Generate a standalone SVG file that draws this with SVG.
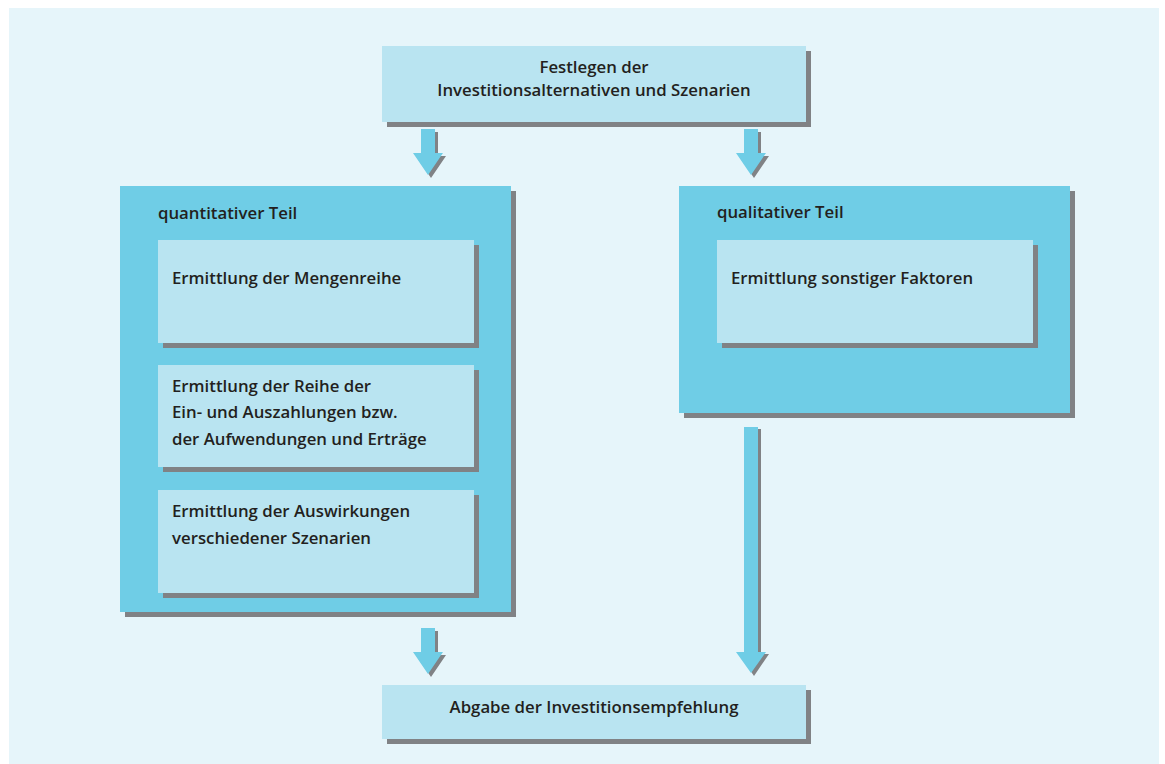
<svg xmlns="http://www.w3.org/2000/svg" width="1165" height="764" viewBox="0 0 1165 764">
  <defs>
    <style>
      .bg { fill: #e6f5fa; }
      .shadow { fill: #808285; }
      .light { fill: #b9e4f1; }
      .mid { fill: #6fcde6; }
      .arrow { fill: #6fcde6; }
      .ashadow { fill: #808285; }
      text { font-family: "Open Sans", "Liberation Sans", sans-serif; font-weight: 600; font-size: 16.8px; fill: #231f20; }
      .c { text-anchor: middle; }
    </style>
    <!-- downward block arrow, origin at the shaft's top centre -->
    <g id="arrowShort">
      <path class="ashadow" d="M-4 3 H10 V27 H18 L3 49 L-12 27 H-4 Z"/>
      <path class="arrow" d="M-7 0 H7 V24 H15 L0 46 L-15 24 H-7 Z"/>
    </g>
    <g id="arrowLong">
      <path class="ashadow" d="M-4 2 H10 V227 H18 L3 249 L-12 227 H-4 Z"/>
      <path class="arrow" d="M-7 0 H7 V225 H15 L0 246 L-15 225 H-7 Z"/>
    </g>
  </defs>

  <rect class="bg" x="9" y="8" width="1150" height="756"/>

  <!-- connectors -->
  <g id="connectors">
    <use href="#arrowShort" x="428" y="129"/>
    <use href="#arrowShort" x="751" y="129"/>
    <use href="#arrowShort" x="428" y="628"/>
    <use href="#arrowLong" x="751" y="427"/>
  </g>

  <!-- start node -->
  <g id="festlegen">
    <rect class="shadow" x="387" y="51" width="424" height="76"/>
    <rect class="light" x="382" y="46" width="424" height="76"/>
    <text class="c" x="594" y="73">Festlegen der</text>
    <text class="c" x="594" y="96">Investitionsalternativen und Szenarien</text>
  </g>

  <!-- quantitative part -->
  <g id="quantitativ">
    <rect class="shadow" x="125" y="191" width="391" height="426"/>
    <rect class="mid" x="120" y="186" width="391" height="426"/>
    <text x="158" y="219">quantitativer Teil</text>
  </g>
  <g id="mengenreihe">
    <rect class="shadow" x="163" y="245" width="316" height="103"/>
    <rect class="light" x="158" y="240" width="316" height="103"/>
    <text x="172" y="284">Ermittlung der Mengenreihe</text>
  </g>
  <g id="zahlungsreihe">
    <rect class="shadow" x="163" y="370" width="316" height="102"/>
    <rect class="light" x="158" y="365" width="316" height="102"/>
    <text x="172" y="392">Ermittlung der Reihe der</text>
    <text x="172" y="418">Ein- und Auszahlungen bzw.</text>
    <text x="172" y="445">der Aufwendungen und Erträge</text>
  </g>
  <g id="szenarien">
    <rect class="shadow" x="163" y="495" width="316" height="103"/>
    <rect class="light" x="158" y="490" width="316" height="103"/>
    <text x="172" y="517">Ermittlung der Auswirkungen</text>
    <text x="172" y="544">verschiedener Szenarien</text>
  </g>

  <!-- qualitative part -->
  <g id="qualitativ">
    <rect class="shadow" x="684" y="191" width="391" height="227"/>
    <rect class="mid" x="679" y="186" width="391" height="227"/>
    <text x="717" y="218">qualitativer Teil</text>
  </g>
  <g id="faktoren">
    <rect class="shadow" x="722" y="245" width="316" height="103"/>
    <rect class="light" x="717" y="240" width="316" height="103"/>
    <text x="731" y="284">Ermittlung sonstiger Faktoren</text>
  </g>

  <!-- result node -->
  <g id="empfehlung">
    <rect class="shadow" x="387" y="690" width="424" height="54"/>
    <rect class="light" x="382" y="685" width="424" height="54"/>
    <text class="c" x="594" y="713">Abgabe der Investitionsempfehlung</text>
  </g>
</svg>
